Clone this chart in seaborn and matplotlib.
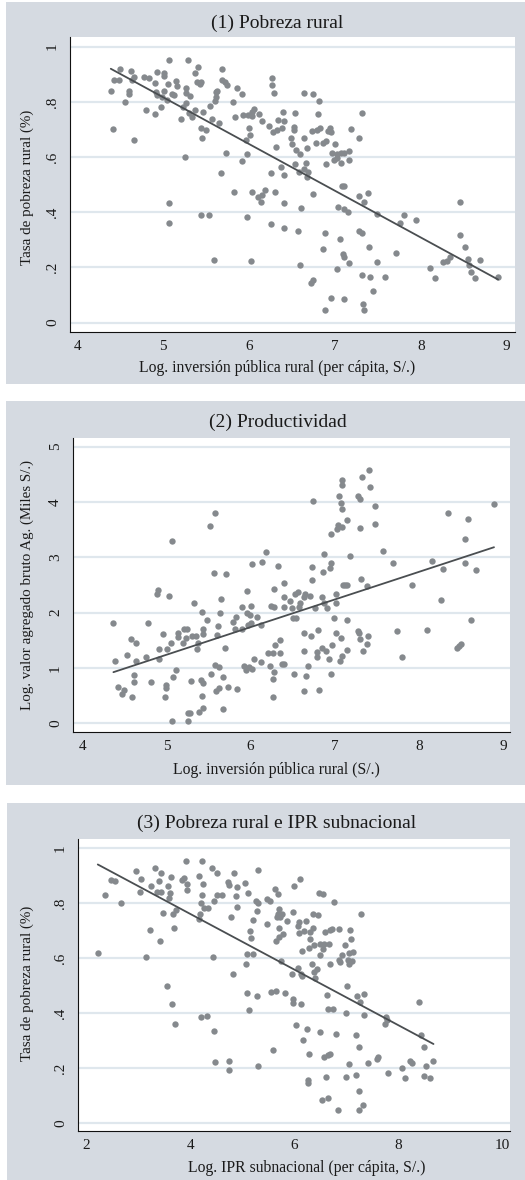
import numpy as np
import pandas as pd
import matplotlib
matplotlib.use("Agg")
import matplotlib.pyplot as plt
from matplotlib.patches import Rectangle
import seaborn as sns

# ---------------- data ----------------
titles = ["(1) Pobreza rural", "(2) Productividad", "(3) Pobreza rural e IPR subnacional"]
xlabels = ["Log. inversión pública rural (per cápita, S/.)",
           "Log. inversión pública rural (S/.)",
           "Log. IPR subnacional (per cápita, S/.)"]
ylabels = ["Tasa de pobreza rural (%)",
           "Log. valor agregado bruto Ag. (Miles S/.)",
           "Tasa de pobreza rural (%)"]

xticks1 = [4, 5, 6, 7, 8, 9]
yticks1 = [0, 0.2, 0.4, 0.6, 0.8, 1]
yticklabels1 = ["0", ".2", ".4", ".6", ".8", "1"]
xticks2 = [4, 5, 6, 7, 8, 9]
yticks2 = [0, 1, 2, 3, 4, 5]
yticklabels2 = ["0", "1", "2", "3", "4", "5"]
xticks3 = [2, 4, 6, 8, 10]
yticks3 = [0, 0.2, 0.4, 0.6, 0.8, 1]
yticklabels3 = ["0", ".2", ".4", ".6", ".8", "1"]

# (x, y) points, panel 1
pts1 = [(4.39,0.839),(4.41,0.70),(4.43,0.878),(4.50,0.92),(4.49,0.88),(4.56,0.80),(4.60,0.84),(4.60,0.83),
        (4.62,0.91),(4.64,0.88),(4.66,0.89),(4.66,0.66),(4.78,0.89),(4.80,0.77),(4.83,0.885),(4.90,0.867),
        (4.91,0.755),(4.93,0.908),(4.92,0.837),(4.93,0.825),(4.98,0.78),(5.01,0.906),(5.01,0.894),(5.01,0.84),
        (4.99,0.816),(5.04,0.807),(5.06,0.865),(5.07,0.952),(5.07,0.435),(5.07,0.36),(5.10,0.827),(5.13,0.824),
        (5.15,0.877),(5.16,0.858),(5.21,0.738),(5.23,0.78),(5.25,0.60),(5.27,0.85),(5.27,0.833),(5.27,0.797),
        (5.29,0.952),(5.31,0.822),(5.30,0.76),(5.34,0.746),(5.37,0.906),(5.37,0.77),(5.39,0.873),(5.40,0.928),
        (5.43,0.863),(5.44,0.872),(5.44,0.707),(5.44,0.39),(5.45,0.67),(5.46,0.762),(5.50,0.698),(5.53,0.39),
        (5.55,0.785),(5.57,0.737),(5.59,0.227),(5.60,0.803),(5.61,0.836),(5.62,0.819),(5.63,0.838),(5.65,0.722),
        (5.67,0.541),(5.69,0.92),(5.69,0.879),(5.72,0.873),(5.74,0.861),(5.73,0.613),(5.81,0.80),(5.82,0.475),
        (5.84,0.745),(5.86,0.849),(5.92,0.829),(5.92,0.587),(5.93,0.752),(5.96,0.662),(5.98,0.611),(5.98,0.384),
        (5.99,0.752),(6.00,0.707),(6.01,0.68),(6.02,0.225),(6.03,0.749),(6.03,0.472),(6.03,0.764),(6.06,0.773),
        (6.10,0.457),(6.12,0.756),(6.14,0.438),(6.15,0.732),(6.15,0.463),(6.19,0.481),(6.23,0.713),(6.25,0.541),
        (6.26,0.357),(6.27,0.888),(6.27,0.861),(6.29,0.832),(6.28,0.691),(6.30,0.472),(6.31,0.635),(6.32,0.698),
        (6.34,0.734),(6.37,0.565),(6.38,0.704),(6.39,0.764),(6.41,0.435),(6.41,0.342),(6.41,0.732),(6.41,0.536),
        (6.49,0.668),(6.50,0.647),(6.52,0.708),(6.52,0.698),(6.53,0.758),(6.54,0.575),(6.55,0.626),(6.57,0.333),
        (6.58,0.546),(6.59,0.207),(6.59,0.611),(6.60,0.415),(6.64,0.668),(6.64,0.833),(6.64,0.556),(6.66,0.577),
        (6.67,0.527),(6.68,0.633),(6.69,0.547),(6.72,0.145),(6.75,0.155),(6.75,0.466),(6.73,0.694),(6.74,0.83),
        (6.78,0.65),(6.79,0.698),(6.80,0.755),(6.82,0.803),(6.83,0.705),(6.86,0.268),(6.88,0.324),(6.88,0.047),
        (6.86,0.65),(6.90,0.576),(6.90,0.659),(6.92,0.694),(6.94,0.704),(6.96,0.69),(6.96,0.09),(6.97,0.613),
        (6.99,0.589),(7.00,0.647),(7.02,0.193),(7.03,0.61),(7.03,0.595),(7.04,0.418),(7.06,0.302),(7.07,0.577),
        (7.07,0.616),(7.08,0.496),(7.09,0.248),(7.10,0.411),(7.10,0.616),(7.10,0.239),(7.10,0.496),(7.11,0.085),
        (7.15,0.40),(7.16,0.623),(7.16,0.588),(7.16,0.215),(7.19,0.702),(7.28,0.46),(7.28,0.67),(7.28,0.332),
        (7.32,0.761),(7.32,0.324),(7.32,0.173),(7.33,0.066),(7.34,0.046),(7.34,0.438),(7.39,0.469),(7.40,0.275),
        (7.41,0.167),(7.44,0.115),(7.49,0.219),(7.49,0.394),(7.58,0.167),(7.71,0.251),(7.76,0.36),(7.81,0.389),
        (7.94,0.373),(8.11,0.199),(8.16,0.163),(8.26,0.221),(8.30,0.225),(8.34,0.239),(8.46,0.438),(8.46,0.319),
        (8.51,0.274),(8.55,0.231),(8.56,0.209),(8.59,0.182),(8.63,0.163),(8.69,0.226),(8.90,0.167)]

# (x, y) points, panel 2
pts2 = [(4.37,1.81),(4.39,1.13),(4.42,0.65),(4.47,0.53),(4.49,0.60),(4.53,1.23),(4.58,1.52),(4.59,0.48),
        (4.61,0.75),(4.62,0.87),(4.64,1.46),(4.64,1.13),(4.76,1.20),(4.78,1.81),(4.82,0.75),(4.89,2.34),
        (4.90,2.41),(4.91,1.16),(4.91,1.34),(4.96,1.62),(4.98,0.48),(4.99,0.69),(4.99,0.64),(5.01,1.34),
        (5.03,2.31),(5.05,1.46),(5.06,3.30),(5.06,0.05),(5.08,0.84),(5.11,0.96),(5.14,1.56),(5.14,1.63),
        (5.20,1.45),(5.21,1.70),(5.24,1.70),(5.23,1.55),(5.25,0.05),(5.26,0.18),(5.28,0.18),(5.29,0.77),
        (5.30,1.58),(5.33,2.18),(5.35,1.58),(5.36,1.34),(5.37,1.46),(5.39,0.20),(5.41,0.78),(5.42,0.49),
        (5.42,2.02),(5.43,0.27),(5.43,0.73),(5.43,1.70),(5.43,1.61),(5.48,1.87),(5.52,3.57),(5.53,0.90),
        (5.56,2.72),(5.58,3.80),(5.58,1.05),(5.59,0.59),(5.60,1.60),(5.61,1.76),(5.62,1.02),(5.62,0.63),
        (5.63,2.00),(5.65,2.25),(5.67,0.25),(5.67,0.83),(5.69,1.37),(5.71,2.70),(5.73,0.66),(5.79,1.84),
        (5.81,1.70),(5.83,1.93),(5.84,0.62),(5.90,2.10),(5.90,1.70),(5.92,1.04),(5.94,0.96),(5.96,2.39),
        (5.96,1.99),(5.97,1.78),(5.98,1.02),(5.99,1.95),(6.00,2.12),(6.00,1.82),(6.01,2.88),(6.02,0.98),
        (6.04,1.17),(6.08,1.92),(6.12,1.78),(6.12,1.11),(6.13,2.91),(6.18,3.10),(6.21,1.27),(6.23,1.04),
        (6.24,2.12),(6.26,0.48),(6.26,0.81),(6.27,1.27),(6.28,0.93),(6.28,2.42),(6.29,1.42),(6.28,2.10),
        (6.33,2.84),(6.35,1.51),(6.35,1.27),(6.37,1.08),(6.39,2.11),(6.39,2.54),(6.40,2.29),(6.39,1.08),
        (6.47,2.21),(6.49,2.08),(6.50,1.90),(6.52,0.90),(6.53,2.34),(6.54,1.90),(6.56,2.38),(6.57,2.11),
        (6.59,2.18),(6.63,1.64),(6.63,1.30),(6.63,0.58),(6.63,2.29),(6.65,2.34),(6.66,0.86),(6.68,1.04),
        (6.70,2.30),(6.72,1.57),(6.73,2.83),(6.73,2.59),(6.74,4.01),(6.76,2.08),(6.79,1.20),(6.79,1.29),
        (6.80,1.69),(6.81,0.60),(6.85,2.28),(6.85,1.37),(6.86,2.74),(6.87,3.06),(6.87,2.17),(6.90,1.30),
        (6.91,2.08),(6.93,1.16),(6.94,2.81),(6.95,2.90),(6.96,3.42),(6.96,0.90),(6.97,1.42),(6.99,1.90),
        (7.01,2.34),(7.01,2.17),(7.01,1.63),(7.03,3.51),(7.04,3.58),(7.05,4.11),(7.06,1.13),(7.07,1.55),
        (7.07,3.99),(7.08,3.87),(7.08,1.22),(7.09,4.39),(7.09,4.30),(7.09,3.54),(7.10,2.50),(7.12,2.50),
        (7.14,2.50),(7.15,1.86),(7.15,3.67),(7.15,1.33),(7.18,3.02),(7.27,1.66),(7.27,4.11),(7.29,1.64),
        (7.30,4.05),(7.30,3.53),(7.30,1.53),(7.31,2.60),(7.32,4.45),(7.33,1.31),(7.38,1.43),(7.38,2.49),
        (7.39,1.58),(7.40,4.57),(7.42,4.27),(7.48,3.93),(7.48,3.61),(7.57,3.11),(7.69,2.90),(7.74,1.67),
        (7.80,1.20),(7.92,2.50),(8.10,1.69),(8.15,2.94),(8.26,2.22),(8.29,2.79),(8.34,3.81),(8.45,1.36),
        (8.47,1.39),(8.50,1.43),(8.54,3.34),(8.55,2.90),(8.58,3.70),(8.62,1.87),(8.68,2.77),(8.89,3.96)]

# (x, y) points, panel 3
pts3 = [(2.22,0.618),(2.35,0.827),(2.47,0.882),(2.56,0.879),(2.67,0.798),(2.96,0.915),(3.04,0.839),(3.06,0.885),
        (3.15,0.602),(3.22,0.703),(3.25,0.861),(3.32,0.925),(3.36,0.839),(3.40,0.879),(3.41,0.662),(3.44,0.91),
        (3.44,0.84),(3.48,0.764),(3.55,0.497),(3.56,0.861),(3.58,0.816),(3.62,0.895),(3.61,0.836),(3.65,0.434),
        (3.66,0.758),(3.69,0.708),(3.71,0.361),(3.73,0.773),(3.84,0.882),(3.87,0.892),(3.92,0.953),(3.94,0.87),
        (3.94,0.846),(4.17,0.897),(4.16,0.74),(4.18,0.761),(4.20,0.385),(4.21,0.798),(4.22,0.953),(4.23,0.827),
        (4.25,0.868),(4.26,0.782),(4.32,0.39),(4.33,0.783),(4.41,0.928),(4.43,0.602),(4.45,0.335),(4.45,0.807),
        (4.47,0.222),(4.51,0.91),(4.51,0.828),(4.60,0.827),(4.73,0.876),(4.74,0.864),(4.74,0.225),(4.74,0.194),
        (4.77,0.747),(4.81,0.542),(4.84,0.907),(4.88,0.824),(4.89,0.785),(4.90,0.858),(5.04,0.872),(5.07,0.576),
        (5.08,0.615),(5.09,0.474),(5.11,0.836),(5.12,0.41),(5.14,0.698),(5.16,0.672),(5.20,0.615),(5.20,0.737),
        (5.26,0.806),(5.27,0.462),(5.28,0.771),(5.29,0.206),(5.30,0.80),(5.29,0.921),(5.47,0.722),(5.47,0.813),
        (5.52,0.805),(5.54,0.475),(5.59,0.267),(5.63,0.85),(5.64,0.661),(5.65,0.48),(5.66,0.747),(5.68,0.759),
        (5.69,0.832),(5.70,0.71),(5.71,0.777),(5.71,0.676),(5.72,0.75),(5.74,0.588),(5.75,0.761),(5.77,0.685),
        (5.82,0.474),(5.86,0.733),(5.96,0.542),(5.97,0.452),(5.98,0.436),(5.98,0.765),(5.99,0.861),(6.03,0.356),
        (6.06,0.716),(6.06,0.564),(6.08,0.731),(6.09,0.692),(6.10,0.886),(6.12,0.434),(6.13,0.541),(6.14,0.625),
        (6.15,0.535),(6.16,0.30),(6.19,0.698),(6.22,0.733),(6.24,0.343),(6.26,0.155),(6.26,0.145),(6.27,0.252),
        (6.28,0.636),(6.29,0.67),(6.30,0.693),(6.33,0.579),(6.35,0.759),(6.35,0.707),(6.37,0.549),(6.38,0.646),
        (6.40,0.528),(6.43,0.558),(6.45,0.756),(6.47,0.834),(6.48,0.611),(6.49,0.331),(6.49,0.65),(6.53,0.085),
        (6.54,0.634),(6.55,0.832),(6.56,0.24),(6.57,0.65),(6.59,0.695),(6.60,0.167),(6.62,0.464),(6.64,0.246),
        (6.64,0.416),(6.65,0.09),(6.67,0.652),(6.68,0.70),(6.69,0.577),(6.69,0.25),(6.72,0.705),(6.73,0.416),
        (6.75,0.802),(6.80,0.322),(6.83,0.046),(6.85,0.705),(6.86,0.594),(6.88,0.585),(6.92,0.61),(6.97,0.646),
        (6.98,0.398),(6.98,0.167),(7.00,0.497),(7.02,0.592),(7.04,0.577),(7.04,0.213),(7.04,0.619),(7.06,0.70),
        (7.08,0.669),(7.10,0.588),(7.13,0.622),(7.18,0.173),(7.19,0.321),(7.20,0.461),(7.23,0.115),(7.24,0.276),
        (7.24,0.046),(7.26,0.44),(7.27,0.761),(7.31,0.067),(7.33,0.468),(7.34,0.394),(7.42,0.218),(7.58,0.233),
        (7.61,0.24),(7.73,0.359),(7.76,0.385),(7.77,0.376),(7.79,0.182),(8.07,0.20),(8.12,0.164),(8.22,0.224),
        (8.25,0.219),(8.40,0.44),(8.43,0.319),(8.49,0.276),(8.48,0.17),(8.52,0.208),(8.60,0.164),(8.67,0.224)]

# ---------------- style ----------------
sns.set_style("white")
plt.rcParams['font.family'] = ['Liberation Serif', 'DejaVu Serif']

W, H = 525, 1180
BG = "#D5DAE1"
GRID = "#DFE7ED"
PT = "#85898D"
LN = "#4A4E51"
TXT = "#1A1A1A"

fig = plt.figure(figsize=(W / 100, H / 100), dpi=100)
fig.patch.set_facecolor("white")


def fx(px):
    return px / W


def fy(py):
    return 1 - py / H


# gray graph regions (pixel boxes: left, top, right, bottom)
for (x0, y0, x1, y1) in [(6, 2, 525, 384), (6, 401, 525, 785), (7, 803, 525, 1180)]:
    fig.patches.append(Rectangle((fx(x0), fy(y1)), (x1 - x0) / W, (y1 - y0) / H,
                                 transform=fig.transFigure, facecolor=BG,
                                 edgecolor="none", zorder=-5))


def panel(pts, box, xlim, ylim, xticks, yticks, yticklabels,
          title, tpos, xlabel, xlpos, ylabel, ylpos):
    l, t, r, b = box
    ax = fig.add_axes([fx(l), fy(b), (r - l) / W, (b - t) / H])
    ax.set_zorder(2)
    ax.set_facecolor("white")
    df = pd.DataFrame(pts, columns=["x", "y"])
    ax.set_axisbelow(True)
    ax.yaxis.grid(True, color=GRID, lw=1.6)
    ax.xaxis.grid(False)
    sns.regplot(data=df, x="x", y="y", ci=None, ax=ax, color=PT,
                scatter_kws=dict(s=21, linewidths=0, alpha=1, zorder=2),
                line_kws=dict(color=LN, lw=1.3, zorder=3))
    ax.set_xlim(*xlim)
    ax.set_ylim(*ylim)
    ax.set_xticks(xticks)
    ax.set_xticklabels([str(v) for v in xticks])
    ax.set_yticks(yticks)
    ax.set_yticklabels(yticklabels, rotation=90, va="center")
    ax.set_xlabel("")
    ax.set_ylabel("")
    for s in ["top", "right"]:
        ax.spines[s].set_visible(False)
    for s in ["left", "bottom"]:
        ax.spines[s].set_color("#111111")
        ax.spines[s].set_linewidth(0.8)
    ax.tick_params(axis="both", direction="out", length=3, width=0.8,
                   color="#111111", labelsize=11, labelcolor=TXT)
    ax.tick_params(axis="x", pad=3)
    ax.tick_params(axis="y", pad=5)
    fig.text(fx(tpos[0]), fy(tpos[1]), title, ha="center", va="center",
             fontsize=14, color=TXT, zorder=3)
    fig.text(fx(xlpos[0]), fy(xlpos[1]), xlabel, ha="center", va="center",
             fontsize=11.3, color=TXT, zorder=3)
    fig.text(fx(ylpos[0]), fy(ylpos[1]), ylabel, ha="center", va="center",
             rotation=90, fontsize=10.8, color=TXT, zorder=3)
    return ax


panel(pts1, (70, 37, 515, 332), (3.915, 9.097), (-0.034, 1.035),
      xticks1, yticks1, yticklabels1,
      titles[0], (277, 23), xlabels[0], (277, 368), ylabels[0], (27.5, 187))
panel(pts2, (73, 438, 510, 732), (3.89, 9.08), (-0.157, 5.157),
      xticks2, yticks2, yticklabels2,
      titles[1], (278, 422), xlabels[1], (276, 770), ylabels[1], (27.5, 585))
panel(pts3, (78, 839, 510, 1131), (1.84, 10.14), (-0.029, 1.032),
      xticks3, yticks3, yticklabels3,
      titles[2], (277, 823), xlabels[2], (307, 1168), ylabels[2], (27.5, 983))

fig.savefig("out.png", dpi=100, facecolor="white")
